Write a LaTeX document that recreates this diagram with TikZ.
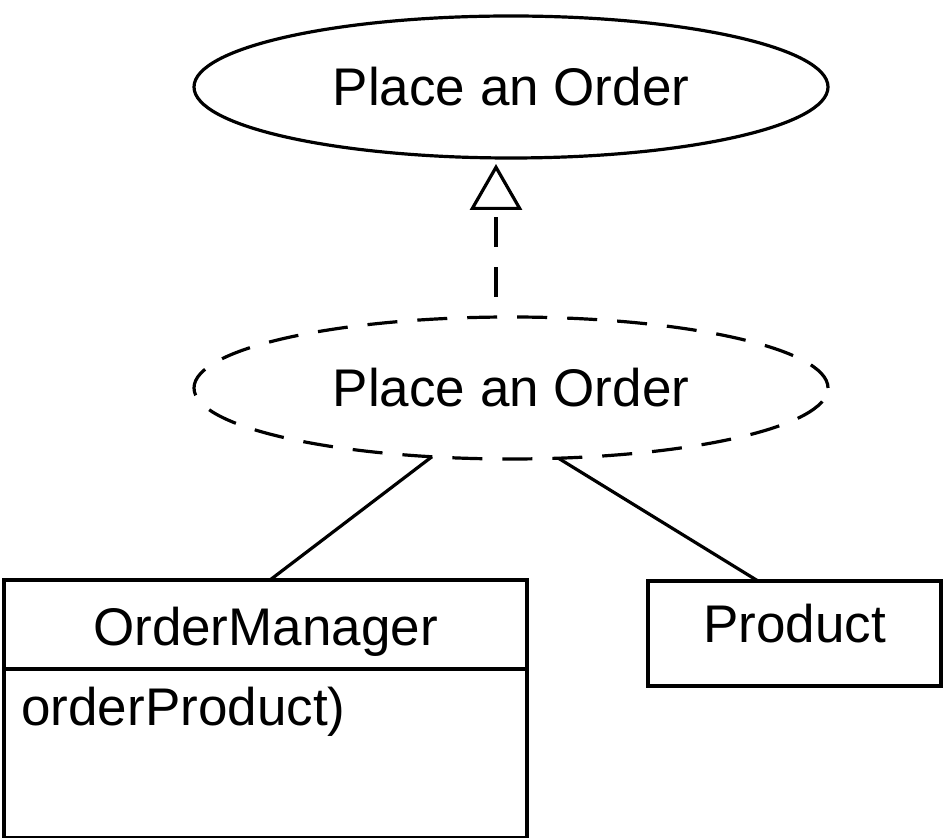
\documentclass[tikz,border=0pt]{standalone}
\usepackage{fontspec}
\setmainfont{Liberation Sans}
\usetikzlibrary{shapes.geometric,arrows.meta,positioning}

\begin{document}
\begin{tikzpicture}[x=0.5pt,y=-0.5pt,
		every node/.style={font=\fontsize{26.5}{32}\selectfont},
		usecase/.style={ellipse,draw,line width=1.6pt,minimum width=317pt,minimum height=71pt,inner sep=0pt,outer sep=0pt},
		classbox/.style={rectangle,draw,line width=1.6pt,inner sep=0pt,outer sep=0pt,text height=21.5pt},
		link/.style={line width=1.6pt}]
		\useasboundingbox (0,0) rectangle (943,838);
		% use cases
		\node[usecase] (uc) at (511,87) {Place an Order};
		\node[usecase,dash pattern=on 15pt off 10pt] (ouc) at (511,388) {Place an Order};
		% classes
		\node[classbox,minimum width=261.5pt,minimum height=44.5pt,text depth=0pt] (om) at (265.5,624.5) {OrderManager};
		\node[classbox,anchor=north,minimum width=261.5pt,minimum height=84.5pt] (omops) at (om.south) {};
		\node[anchor=base west,inner sep=0pt] (op) at ([xshift=8.5pt,yshift=-28.5pt]omops.north west) {orderProduct)};
		\node[classbox,minimum width=146.5pt,minimum height=52.5pt,text depth=12pt] (pr) at (794.5,633.5) {Product};
		% realization
		\draw[link,dash pattern=on 15pt off 10pt,dash phase=15pt,shorten >=3pt,-{Triangle[open,length=23pt,width=26pt]}] ([xshift=-7.5pt]ouc.north) -- ([xshift=-7.5pt]uc.south);
		% participants
		\draw[link] (ouc.221) -- ([xshift=2.25pt]om.north);
		\draw[link] (ouc.-56) -- ([xshift=-18.25pt]pr.north);
	\end{tikzpicture}
\end{document}
